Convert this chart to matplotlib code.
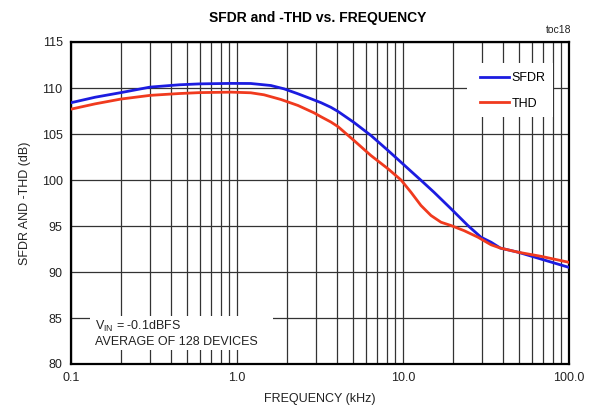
import matplotlib
matplotlib.use("Agg")
import matplotlib.pyplot as plt
from matplotlib.patches import Rectangle
from matplotlib.ticker import FixedLocator, NullFormatter

plt.rcParams['font.family'] = ['Liberation Sans', 'DejaVu Sans']

# data (frequency in kHz, values in dB)
sfdr_f = [0.1, 0.14, 0.2, 0.3, 0.45, 0.6, 0.92, 1.21, 1.6, 1.92, 2.33, 2.79, 3.21, 3.68,
          4.06, 5.07, 6.41, 8.12, 10.14, 11.17, 12.83, 15.37, 19.47, 24.6, 29.5, 33.9,
          38.6, 49.4, 68.0, 100.0]
sfdr_v = [108.4, 109.0, 109.5, 110.1, 110.35, 110.45, 110.5, 110.49, 110.27, 109.91,
          109.37, 108.83, 108.4, 107.9, 107.45, 106.25, 104.84, 103.21, 101.64, 100.95,
          99.97, 98.67, 96.87, 95.05, 93.78, 93.24, 92.6, 92.15, 91.4, 90.5]
thd_f = [0.1, 0.14, 0.2, 0.3, 0.45, 0.6, 0.92, 1.21, 1.455, 1.84, 2.33, 2.91, 3.21, 3.68,
         4.06, 5.07, 6.41, 8.12, 9.73, 11.17, 12.83, 14.75, 16.94, 19.47, 23.3, 28.3,
         33.9, 38.6, 49.4, 68.0, 100.0]
thd_v = [107.7, 108.28, 108.8, 109.2, 109.4, 109.5, 109.55, 109.48, 109.26, 108.75,
         108.1, 107.3, 106.87, 106.3, 105.8, 104.29, 102.66, 101.22, 100.0, 98.67,
         97.23, 96.14, 95.41, 95.05, 94.5, 93.78, 92.96, 92.6, 92.15, 91.7, 91.05]
series_names = ["SFDR", "THD"]
x_ticks = [0.1, 1.0, 10.0, 100.0]
x_tick_labels = ["0.1", "1.0", "10.0", "100.0"]
y_ticks = [80, 85, 90, 95, 100, 105, 110, 115]

fig = plt.figure(figsize=(5.9, 4.17), dpi=100)
ax = fig.add_axes([71/590, (417-364)/417, 498/590, 322/417])

ax.set_xscale('log')
ax.set_xlim(0.1, 100)
ax.set_ylim(80, 115)

minor = [m * d for d in (0.1, 1, 10) for m in range(2, 10)]
ax.xaxis.set_major_locator(FixedLocator(x_ticks))
ax.xaxis.set_minor_locator(FixedLocator(minor))
ax.xaxis.set_minor_formatter(NullFormatter())
ax.set_xticklabels(x_tick_labels)
ax.set_yticks(y_ticks)
ax.tick_params(which='both', length=0, labelsize=9, pad=6, colors='#222222')
ax.set_axisbelow(True)
ax.grid(True, which='major', color='#333333', linewidth=0.9)
ax.grid(True, which='minor', axis='x', color='#333333', linewidth=0.9)

for s in ax.spines.values():
    s.set_linewidth(1.6)
    s.set_color('black')

# white boxes covering grid (legend area and annotation area)
ax.add_patch(Rectangle(((467-71)/498, (364-117)/322), (553-467)/498, (117-63)/322,
                       transform=ax.transAxes, facecolor='white', edgecolor='none', zorder=1))
ax.add_patch(Rectangle(((90-71)/498, (364-350)/322), (273-90)/498, (350-316)/322,
                       transform=ax.transAxes, facecolor='white', edgecolor='none', zorder=1))

ax.plot(sfdr_f, sfdr_v, color='#1c1ce0', linewidth=2.0, label=series_names[0], zorder=3,
        solid_joinstyle='round')
ax.plot(thd_f, thd_v, color='#f03a1e', linewidth=2.0, label=series_names[1], zorder=3,
        solid_joinstyle='round')

leg = ax.legend(loc='upper left', bbox_to_anchor=((470-71)/498, (364-62)/322),
                frameon=False, fontsize=9, handlelength=2.3, handletextpad=0.2,
                labelspacing=1.1, borderpad=0.3)
leg.set_zorder(4)

ax.text((95-71)/498, (364-326)/322, r"V$_{\mathregular{IN}}$ = -0.1dBFS", transform=ax.transAxes,
        fontsize=9, va='center', ha='left', zorder=4, color='#222222')
ax.text((95-71)/498, (364-342)/322, "AVERAGE OF 128 DEVICES", transform=ax.transAxes,
        fontsize=9, va='center', ha='left', zorder=4, color='#222222')

fig.text(318/590, 1 - 18/417, "SFDR and -THD vs. FREQUENCY", ha='center', va='center',
         fontsize=10, fontweight='bold')
fig.text(571/590, 1 - 30/417, "toc18", ha='right', va='center', fontsize=7.5, color='#222222')
ax.set_xlabel("FREQUENCY (kHz)", fontsize=9, labelpad=6, color='#222222')
ax.set_ylabel("SFDR AND -THD (dB)", fontsize=9, labelpad=8, color='#222222')

fig.savefig("out.png", dpi=100)
